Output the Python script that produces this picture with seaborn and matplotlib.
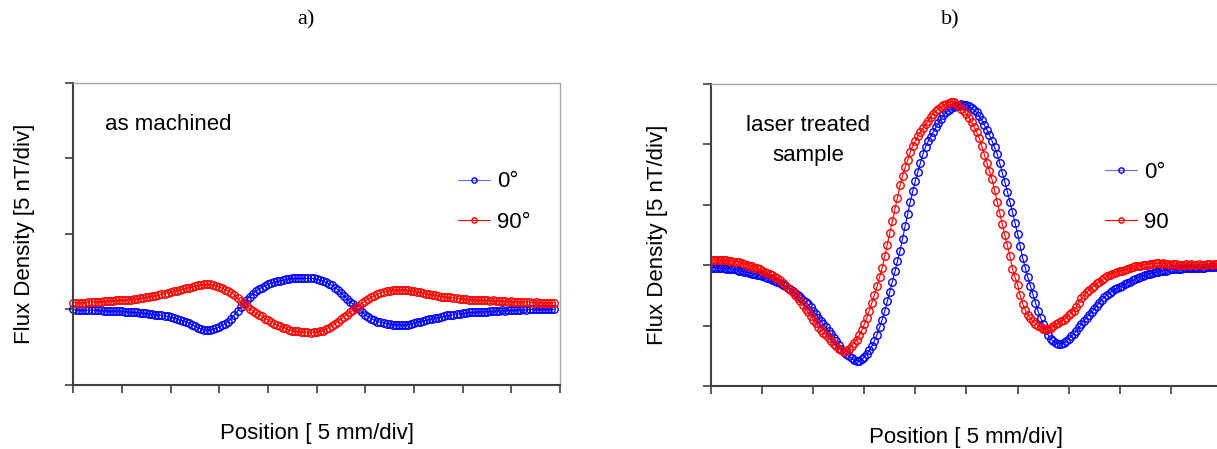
import numpy as np
import matplotlib
matplotlib.use("Agg")
import matplotlib.pyplot as plt
import seaborn as sns

sns.set_style("ticks")
plt.rcParams['font.family'] = ['Liberation Sans', 'DejaVu Sans']
plt.rcParams['text.color'] = 'black'
plt.rcParams['axes.labelcolor'] = 'black'

# ---- panel a) as machined, x step 1/16 div, 159 samples
a_step = 0.0625
a_blue = [
    1.00, 0.99, 0.99, 0.99, 0.99, 0.99, 0.99, 0.99, 0.99, 0.99,
    0.98, 0.98, 0.98, 0.98, 0.98, 0.98, 0.98, 0.97, 0.97, 0.96,
    0.96, 0.96, 0.95, 0.95, 0.95, 0.94, 0.94, 0.93, 0.93, 0.92,
    0.91, 0.91, 0.90, 0.89, 0.88, 0.86, 0.85, 0.84, 0.82, 0.80,
    0.78, 0.76, 0.74, 0.73, 0.73, 0.73, 0.74, 0.75, 0.77, 0.79,
    0.81, 0.84, 0.88, 0.93, 0.98, 1.03, 1.08, 1.13, 1.17, 1.20,
    1.24, 1.27, 1.29, 1.31, 1.33, 1.35, 1.36, 1.37, 1.38, 1.39,
    1.40, 1.40, 1.41, 1.41, 1.41, 1.41, 1.41, 1.41, 1.41, 1.41,
    1.40, 1.39, 1.38, 1.36, 1.34, 1.32, 1.29, 1.26, 1.22, 1.18,
    1.14, 1.10, 1.07, 1.03, 1.00, 0.96, 0.93, 0.90, 0.88, 0.86,
    0.84, 0.83, 0.82, 0.81, 0.81, 0.80, 0.80, 0.80, 0.80, 0.79,
    0.80, 0.81, 0.82, 0.84, 0.84, 0.85, 0.86, 0.87, 0.88, 0.89,
    0.89, 0.90, 0.91, 0.92, 0.92, 0.93, 0.94, 0.94, 0.95, 0.95,
    0.96, 0.96, 0.96, 0.97, 0.97, 0.97, 0.97, 0.98, 0.98, 0.98,
    0.98, 0.99, 0.98, 0.99, 0.99, 0.99, 0.99, 0.99, 1.00, 0.99,
    1.00, 1.00, 1.00, 1.00, 1.00, 1.00, 1.00, 1.00, 1.00,
]
a_red = [
    1.09, 1.09, 1.09, 1.09, 1.09, 1.10, 1.10, 1.10, 1.10, 1.10,
    1.11, 1.11, 1.11, 1.11, 1.12, 1.12, 1.12, 1.12, 1.13, 1.13,
    1.14, 1.14, 1.15, 1.15, 1.16, 1.17, 1.18, 1.18, 1.19, 1.20,
    1.21, 1.22, 1.23, 1.24, 1.25, 1.26, 1.27, 1.28, 1.29, 1.30,
    1.31, 1.32, 1.32, 1.33, 1.33, 1.33, 1.32, 1.31, 1.30, 1.28,
    1.26, 1.24, 1.22, 1.19, 1.15, 1.11, 1.07, 1.04, 1.01, 0.98,
    0.95, 0.93, 0.91, 0.88, 0.86, 0.84, 0.81, 0.79, 0.78, 0.76,
    0.75, 0.73, 0.72, 0.71, 0.71, 0.70, 0.70, 0.70, 0.69, 0.70,
    0.70, 0.71, 0.72, 0.74, 0.76, 0.78, 0.81, 0.84, 0.87, 0.90,
    0.93, 0.96, 0.99, 1.02, 1.05, 1.08, 1.11, 1.14, 1.16, 1.18,
    1.20, 1.22, 1.23, 1.24, 1.25, 1.26, 1.26, 1.26, 1.26, 1.26,
    1.26, 1.25, 1.24, 1.23, 1.23, 1.22, 1.21, 1.20, 1.19, 1.19,
    1.18, 1.17, 1.17, 1.16, 1.16, 1.15, 1.15, 1.14, 1.14, 1.14,
    1.13, 1.13, 1.13, 1.12, 1.12, 1.12, 1.12, 1.11, 1.12, 1.11,
    1.11, 1.11, 1.11, 1.10, 1.11, 1.10, 1.10, 1.10, 1.10, 1.10,
    1.10, 1.09, 1.10, 1.09, 1.09, 1.09, 1.09, 1.09, 1.09,
]

# ---- panel b) laser treated, x step 0.05 div, 201 samples
b_step = 0.05
b_blue = [
    1.96, 1.96, 1.96, 1.95, 1.95, 1.95, 1.94, 1.94, 1.93, 1.93,
    1.92, 1.91, 1.90, 1.89, 1.88, 1.87, 1.86, 1.85, 1.84, 1.83,
    1.82, 1.81, 1.79, 1.78, 1.76, 1.74, 1.72, 1.70, 1.68, 1.65,
    1.62, 1.60, 1.57, 1.54, 1.50, 1.47, 1.43, 1.39, 1.35, 1.30,
    1.25, 1.19, 1.13, 1.08, 1.02, 0.97, 0.91, 0.86, 0.80, 0.74,
    0.68, 0.62, 0.57, 0.53, 0.49, 0.46, 0.43, 0.42, 0.42, 0.44,
    0.48, 0.53, 0.59, 0.66, 0.75, 0.85, 0.97, 1.10, 1.24, 1.40,
    1.56, 1.73, 1.90, 2.07, 2.24, 2.44, 2.65, 2.85, 3.05, 3.23,
    3.40, 3.55, 3.70, 3.84, 3.96, 4.05, 4.13, 4.21, 4.28, 4.35,
    4.42, 4.48, 4.53, 4.57, 4.60, 4.62, 4.64, 4.66, 4.67, 4.66,
    4.65, 4.63, 4.60, 4.57, 4.53, 4.47, 4.40, 4.32, 4.24, 4.15,
    4.06, 3.95, 3.84, 3.69, 3.53, 3.38, 3.22, 3.05, 2.88, 2.70,
    2.52, 2.32, 2.12, 1.96, 1.80, 1.66, 1.52, 1.38, 1.24, 1.13,
    1.02, 0.93, 0.84, 0.78, 0.74, 0.71, 0.70, 0.70, 0.72, 0.75,
    0.78, 0.82, 0.86, 0.91, 0.97, 1.02, 1.08, 1.13, 1.18, 1.22,
    1.27, 1.33, 1.38, 1.43, 1.47, 1.51, 1.54, 1.57, 1.60, 1.62,
    1.64, 1.66, 1.69, 1.71, 1.73, 1.75, 1.77, 1.79, 1.80, 1.82,
    1.83, 1.85, 1.86, 1.87, 1.88, 1.89, 1.90, 1.91, 1.91, 1.92,
    1.93, 1.93, 1.94, 1.94, 1.94, 1.95, 1.95, 1.95, 1.95, 1.96,
    1.96, 1.96, 1.96, 1.96, 1.97, 1.97, 1.97, 1.97, 1.97, 1.97,
    1.97,
]
b_red = [
    2.08, 2.09, 2.08, 2.08, 2.08, 2.08, 2.08, 2.07, 2.07, 2.06,
    2.06, 2.05, 2.04, 2.02, 2.01, 1.99, 1.98, 1.96, 1.95, 1.93,
    1.91, 1.89, 1.87, 1.85, 1.83, 1.81, 1.78, 1.75, 1.71, 1.67,
    1.63, 1.59, 1.55, 1.51, 1.46, 1.40, 1.34, 1.28, 1.22, 1.16,
    1.10, 1.04, 0.98, 0.93, 0.88, 0.84, 0.79, 0.75, 0.70, 0.66,
    0.62, 0.59, 0.57, 0.58, 0.61, 0.66, 0.71, 0.76, 0.84, 0.92,
    1.02, 1.13, 1.25, 1.38, 1.51, 1.65, 1.80, 1.96, 2.15, 2.34,
    2.54, 2.73, 2.93, 3.12, 3.32, 3.48, 3.62, 3.74, 3.87, 3.98,
    4.06, 4.14, 4.21, 4.27, 4.33, 4.38, 4.45, 4.51, 4.55, 4.59,
    4.62, 4.65, 4.67, 4.69, 4.71, 4.70, 4.67, 4.63, 4.59, 4.55,
    4.50, 4.44, 4.37, 4.29, 4.20, 4.10, 3.97, 3.83, 3.69, 3.56,
    3.42, 3.24, 3.05, 2.87, 2.68, 2.50, 2.33, 2.15, 1.94, 1.80,
    1.68, 1.50, 1.36, 1.26, 1.18, 1.12, 1.07, 1.03, 1.00, 0.97,
    0.95, 0.94, 0.94, 0.96, 0.99, 1.02, 1.04, 1.07, 1.10, 1.13,
    1.17, 1.21, 1.25, 1.31, 1.38, 1.45, 1.50, 1.55, 1.59, 1.63,
    1.66, 1.70, 1.73, 1.76, 1.79, 1.82, 1.84, 1.86, 1.87, 1.89,
    1.90, 1.91, 1.92, 1.94, 1.95, 1.97, 1.98, 1.99, 1.99, 2.00,
    2.01, 2.01, 2.02, 2.02, 2.03, 2.03, 2.02, 2.03, 2.02, 2.02,
    2.01, 2.02, 2.02, 2.01, 2.01, 2.01, 2.02, 2.01, 2.02, 2.01,
    2.01, 2.02, 2.01, 2.01, 2.02, 2.02, 2.01, 2.02, 2.02, 2.03,
    2.03,
]

a_labels = ["0°", "90°"]
b_labels = ["0°", "90"]

BLUE = "#0000ff"
RED = "#ff0000"
FS = 16

fig = plt.figure(figsize=(12.17, 4.49), dpi=100)
ax1 = fig.add_axes([0.0602, 0.1425, 0.3999, 0.6733])
ax2 = fig.add_axes([0.5842, 0.1403, 0.4199, 0.6726])


def draw(ax, step, blue, red, labels, clip):
    for vals, col, lab in [(blue, BLUE, labels[0]), (red, RED, labels[1])]:
        x = np.arange(len(vals)) * step
        sns.lineplot(x=x, y=vals, ax=ax, color=col, linewidth=0.8,
                     marker="o", markersize=5.4, markerfacecolor="none",
                     markeredgecolor=col, markeredgewidth=1.0,
                     label=lab, clip_on=clip)


draw(ax1, a_step, a_blue, a_red, a_labels, False)
draw(ax2, b_step, b_blue, b_red, b_labels, True)

ax1.set_xlim(0, 10)
ax1.set_ylim(0, 4)
ax1.set_yticks(range(0, 5))
ax2.set_xlim(0, 10)
ax2.set_ylim(0, 5)
ax2.set_yticks(range(0, 6))

for ax in (ax1, ax2):
    ax.set_xticks(range(0, 11))
    ax.set_xticklabels([])
    ax.set_yticklabels([])
    ax.tick_params(axis="both", direction="out", length=6, width=1.2,
                   color="#404040")
    ax.spines["left"].set_color("#404040")
    ax.spines["bottom"].set_color("#404040")
    ax.spines["left"].set_linewidth(1.5)
    ax.spines["bottom"].set_linewidth(1.5)
    for s in ("top", "right"):
        ax.spines[s].set_visible(True)
        ax.spines[s].set_color("#a8a8a8")
        ax.spines[s].set_linewidth(1.0)
    ax.set_ylabel("Flux Density [5 nT/div]", fontsize=FS)
    ax.set_xlabel("Position [ 5 mm/div]", fontsize=FS)
    ax.xaxis.label.set_va("center")
    ax.yaxis.label.set_va("center")

ax1.yaxis.set_label_coords(-0.101, 0.5)
ax1.xaxis.set_label_coords(0.5, -0.16)
ax2.yaxis.set_label_coords(-0.104, 0.5)
ax2.xaxis.set_label_coords(0.499, -0.172)

ax1.text(0.065, 0.863, "as machined", transform=ax1.transAxes,
         fontsize=FS, ha="left", va="center")
ax2.text(0.19, 0.864, "laser treated", transform=ax2.transAxes,
         fontsize=FS, ha="center", va="center")
ax2.text(0.19, 0.762, "sample", transform=ax2.transAxes,
         fontsize=FS, ha="center", va="center")

leg_kw = dict(loc="upper left", frameon=False, fontsize=FS, borderpad=0,
              borderaxespad=0, handlelength=1.45, handletextpad=0.3,
              markerscale=0.7)
leg1 = ax1.legend(bbox_to_anchor=(0.79, 0.707), labelspacing=0.88, **leg_kw)
leg2 = ax2.legend(bbox_to_anchor=(0.771, 0.742), labelspacing=1.3, **leg_kw)
for leg in (leg1, leg2):
    lines = leg.get_lines()
    lines[0].set_color("#6a6aff")
    lines[0].set_markeredgecolor(BLUE)
    lines[1].set_markeredgecolor(RED)

fig.text(306 / 1217, 1 - 20 / 449, "a)", fontsize=16, ha="center",
         va="center", family=["Liberation Serif", "DejaVu Serif"])
fig.text(950 / 1217, 1 - 20 / 449, "b)", fontsize=16, ha="center",
         va="center", family=["Liberation Serif", "DejaVu Serif"])

fig.savefig("out.png", dpi=100)
